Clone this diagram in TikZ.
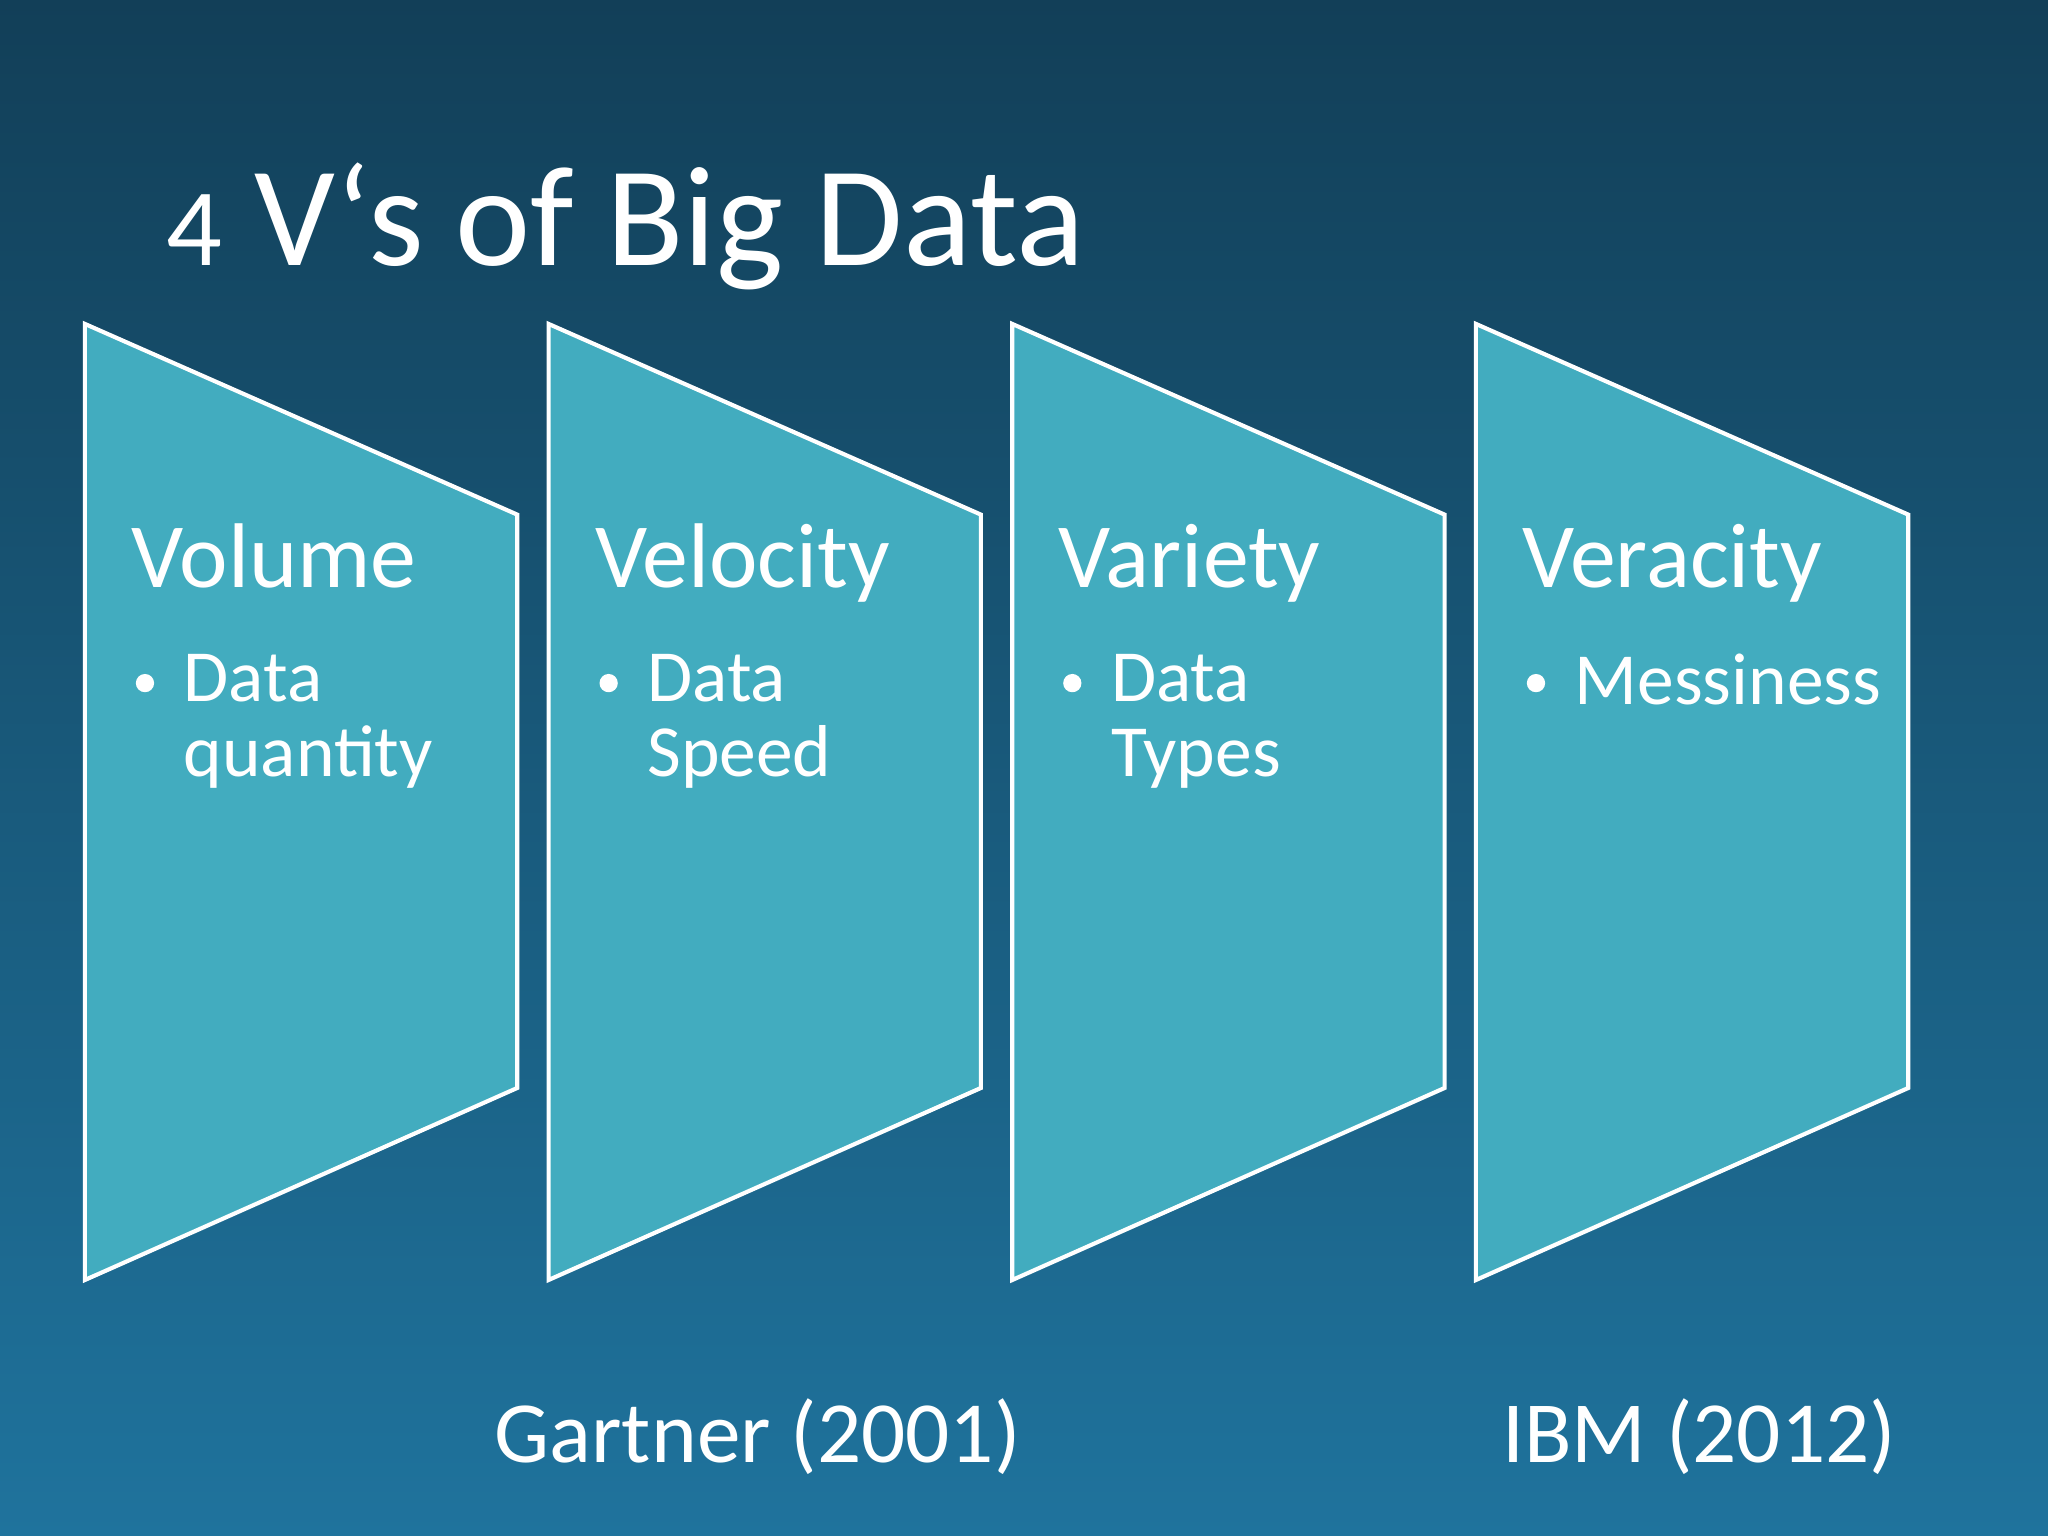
\documentclass[tikz,border=0pt]{standalone}
\usepackage{fontspec}
\setmainfont{Carlito}
\usetikzlibrary{positioning}
\definecolor{bgtop}{HTML}{123F58}
\definecolor{bgbot}{HTML}{1F739D}
\definecolor{panel}{HTML}{42ACBF}

\begin{document}
\begin{tikzpicture}[x=0.01cm, y=-0.01cm, every node/.style={text=white, inner sep=0pt},
  panelshape/.style={fill=panel, draw=white, line width=0.9pt},
  vhead/.style={font=\fontsize{20}{24}\selectfont, anchor=base west},
  vitem/.style={font=\fontsize{16}{16.5}\selectfont, anchor=north west, align=left}]
  % background
  \shade[top color=bgtop, bottom color=bgbot] (0,0) rectangle (1568,1176);
  \useasboundingbox (0,0) rectangle (1568,1176);

  % title
  \node[font=\fontsize{31}{36}\selectfont, anchor=base west] (title) at (127,203) {{\fontsize{24}{24}\selectfont 4} V‘s of Big Data};

  % panels
  \foreach \i/\head/\item in {0/Volume/{Data\\quantity}, 1/Velocity/{Data\\Speed}, 2/Variety/{Data\\Types}, 3/Veracity/{Messiness}} {
    \draw[panelshape] ({65+355*\i},248) -- ({396+355*\i},394) -- ({396+355*\i},833) -- ({65+355*\i},980) -- cycle;
    \node[vhead] (head\i) at ({100+355*\i},450) {\head};
    \fill[white] ({111+355*\i},523) circle (7);
    \node[vitem] (item\i) at ({140+355*\i},500) {\item};
  }

  % sources
  \node[font=\fontsize{19}{24}\selectfont] (gartner) at (580,1100) {Gartner (2001)};
  \node[font=\fontsize{19}{24}\selectfont] (ibm) at (1301,1100) {IBM (2012)};
\end{tikzpicture}
\end{document}
